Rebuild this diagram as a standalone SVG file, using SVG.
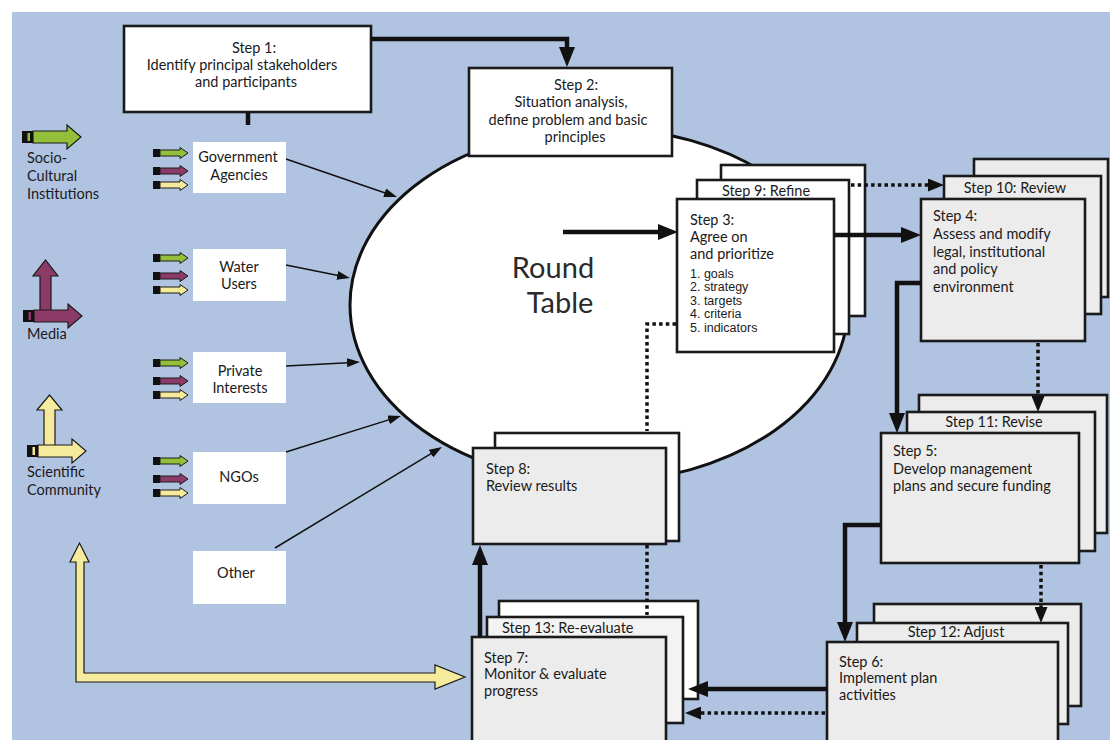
<svg xmlns="http://www.w3.org/2000/svg" xmlns:xlink="http://www.w3.org/1999/xlink" width="1110" height="740" viewBox="0 0 1110 740">
<style>
text{font-family:Lato,"Liberation Sans",sans-serif;font-size:14.5px;fill:#1a1a1a}
.c{text-anchor:middle}
.li{font-family:"Liberation Sans",Arial,sans-serif;font-size:12.5px}
.rt{font-size:29px;fill:#2a2a2a}
.box{stroke:#1a1a1a;stroke-width:2.6}
.w{fill:#ffffff}
.gr{fill:#ececec}
.gl{fill:#f3f3f3}
.sh{fill:#ffffff}
.thick{fill:none;stroke:#111;stroke-width:4.5}
.dot{fill:none;stroke:#111;stroke-width:3.5;stroke-dasharray:3.5 3.2}
.thin{fill:none;stroke:#111;stroke-width:1.5}
.ga{fill:#93bf3b}
.pa{fill:#8c3a67}
.ya{fill:#f6eb9d}
.ao{stroke:#1a1a1a;stroke-width:1.2}
</style>
<defs>
<marker id="ah" markerUnits="userSpaceOnUse" viewBox="0 0 20 16" markerWidth="20" markerHeight="16" refX="10" refY="8" orient="auto"><path d="M0,0 L20,8 L0,16 Z" fill="#111"/></marker>
<marker id="ahd" markerUnits="userSpaceOnUse" viewBox="0 0 16 13" markerWidth="16" markerHeight="13" refX="8" refY="6.5" orient="auto"><path d="M0,0 L16,6.5 L0,13 Z" fill="#111"/></marker>
<marker id="aht" markerUnits="userSpaceOnUse" viewBox="0 0 13 9" markerWidth="13" markerHeight="9" refX="6" refY="4.5" orient="auto"><path d="M0,0 L13,4.5 L0,9 Z" fill="#111"/></marker>
<path id="sab" d="M7,-3 H27 V-5.5 L35,0 L27,5.5 V3 H7 Z" stroke="#1a1a1a" stroke-width="1"/>
<g id="tri">
<rect x="0" y="-4" width="7" height="8" fill="#111"/><use xlink:href="#sab" href="#sab" class="ga"/>
<rect x="0" y="14" width="7" height="8" fill="#111"/><use xlink:href="#sab" href="#sab" class="pa" y="18"/>
<rect x="0" y="28" width="7" height="8" fill="#111"/><use xlink:href="#sab" href="#sab" class="ya" y="32"/>
</g>
<path id="big" d="M11,-6 H45 V-12 L59,0 L45,12 V6 H11 Z" stroke="#1a1a1a" stroke-width="1.2"/>
</defs>

<rect x="12" y="12" width="1098" height="728" fill="#b0c4e2"/>

<!-- Legend -->
<g id="legend-socio">
<use xlink:href="#big" href="#big" class="ga" x="22" y="137"/>
<rect x="22" y="131" width="11" height="12" fill="#111"/>
<rect x="27.5" y="133" width="2.5" height="8" fill="#93bf3b"/>
<text x="27" y="163">Socio-</text>
<text x="27" y="181">Cultural</text>
<text x="27" y="199">Institutions</text>
</g>
<g id="legend-media">
<path d="M40,312 V276 H33 L45.5,260 L58,276 H51 V312" class="pa ao"/>
<use xlink:href="#big" href="#big" class="pa" x="23" y="316"/>
<rect x="23" y="310" width="11" height="12" fill="#111"/>
<rect x="28.5" y="312" width="2.5" height="8" fill="#8c3a67"/>
<text x="27" y="339">Media</text>
</g>
<g id="legend-science">
<path d="M44,447 V410 H37 L49.5,395 L62,410 H55 V447" class="ya ao"/>
<use xlink:href="#big" href="#big" class="ya" x="27" y="451"/>
<rect x="27" y="445" width="11" height="12" fill="#111"/>
<rect x="32.5" y="447" width="2.5" height="8" fill="#f6eb9d"/>
<text x="27" y="477">Scientific</text>
<text x="27" y="495">Community</text>
</g>
<g id="feedback-arrow">
<path d="M76,562 H70 L79.5,543 L89,562 H84 V673 H435 V665 L465,677 L435,689 V682 H76 Z" class="ya ao"/>
</g>

<!-- Round table -->
<g id="round-table">
<ellipse cx="599" cy="305" rx="249" ry="177" fill="#fff" stroke="#111" stroke-width="3"/>
<text class="c rt" x="553" y="278">Round</text>
<text class="c rt" x="560" y="313">Table</text>
</g>

<!-- Stakeholders -->
<g id="government">
<use xlink:href="#tri" href="#tri" x="153" y="153"/>
<rect class="sh" x="193" y="142" width="93" height="51"/>
<text class="c" x="238" y="162">Government</text>
<text class="c" x="239" y="180">Agencies</text>
</g>
<g id="water-users">
<use xlink:href="#tri" href="#tri" x="153" y="258"/>
<rect class="sh" x="193" y="249" width="93" height="52"/>
<text class="c" x="239" y="272">Water</text>
<text class="c" x="239" y="289">Users</text>
</g>
<g id="private-interests">
<use xlink:href="#tri" href="#tri" x="153" y="363"/>
<rect class="sh" x="193" y="352" width="93" height="51"/>
<text class="c" x="240" y="376">Private</text>
<text class="c" x="240" y="393">Interests</text>
</g>
<g id="ngos">
<use xlink:href="#tri" href="#tri" x="153" y="461"/>
<rect class="sh" x="193" y="452" width="93" height="52"/>
<text class="c" x="239" y="482">NGOs</text>
</g>
<g id="other">
<rect class="sh" x="193" y="551" width="93" height="53"/>
<text class="c" x="236" y="578">Other</text>
</g>

<!-- Steps -->
<g id="step1">
<rect class="box w" x="124" y="26" width="247" height="86" stroke-width="3"/>
<text class="c" x="254" y="53">Step 1:</text>
<text class="c" x="242" y="70">Identify principal stakeholders</text>
<text class="c" x="246" y="87">and participants</text>
</g>
<g id="step2">
<rect class="box w" x="469" y="68" width="203" height="88"/>
<text class="c" x="576" y="90">Step 2:</text>
<text class="c" x="571" y="107">Situation analysis,</text>
<text class="c" x="568" y="125">define problem and basic</text>
<text class="c" x="575" y="142">principles</text>
</g>
<g id="step3">
<rect class="box w" x="721" y="165" width="144" height="151"/>
<rect class="box w" x="697" y="180" width="152" height="154"/>
<text class="c" x="766" y="196">Step 9: Refine</text>
<rect class="box w" x="677" y="199" width="157" height="153"/>
<text x="690" y="225">Step 3:</text>
<text x="690" y="242">Agree on</text>
<text x="690" y="259">and prioritize</text>
<text class="li" x="690" y="278">1. goals</text>
<text class="li" x="690" y="291">2. strategy</text>
<text class="li" x="690" y="304.5">3. targets</text>
<text class="li" x="690" y="318">4. criteria</text>
<text class="li" x="690" y="331.5">5. indicators</text>
</g>
<g id="step4">
<rect class="box gr" x="974" y="159" width="134" height="138"/>
<rect class="box gr" x="944" y="176" width="157" height="138"/>
<text class="c" x="1015" y="193">Step 10: Review</text>
<rect class="box gr" x="921" y="199" width="164" height="142"/>
<text x="933" y="221">Step 4:</text>
<text x="933" y="239">Assess and modify</text>
<text x="933" y="257">legal, institutional</text>
<text x="933" y="274">and policy</text>
<text x="933" y="292">environment</text>
</g>
<g id="step5">
<rect class="box gr" x="919" y="395" width="188" height="138"/>
<rect class="box gr" x="907" y="412" width="188" height="139"/>
<text class="c" x="994" y="427">Step 11: Revise</text>
<rect class="box gr" x="881" y="433" width="198" height="130"/>
<text x="893" y="456">Step 5:</text>
<text x="893" y="474">Develop management</text>
<text x="893" y="491">plans and secure funding</text>
</g>
<g id="step6">
<rect class="box gr" x="874" y="604" width="207" height="102"/>
<rect class="box gr" x="857" y="623" width="211" height="101"/>
<text class="c" x="956" y="637">Step 12: Adjust</text>
<rect class="box gr" x="827" y="642" width="231" height="100"/>
<text x="839" y="667">Step 6:</text>
<text x="839" y="683">Implement plan</text>
<text x="839" y="700">activities</text>
</g>
<g id="step7">
<rect class="box w" x="499" y="601" width="199" height="98"/>
<rect class="box gl" x="487" y="617" width="196" height="106"/>
<text x="502" y="633">Step 13: Re-evaluate</text>
<rect class="box gr" x="472" y="637" width="194" height="105"/>
<text x="484" y="663">Step 7:</text>
<text x="484" y="679">Monitor &amp; evaluate</text>
<text x="484" y="696">progress</text>
</g>
<g id="step8">
<rect class="box w" x="495" y="433" width="184" height="108"/>
<rect class="box gr" x="473" y="448" width="193" height="96"/>
<text x="486" y="474">Step 8:</text>
<text x="486" y="491">Review results</text>
</g>

<!-- Connectors -->
<g id="connectors">
<path class="thick" d="M248,112 V125"/>
<path class="thick" d="M371,39 H567 V57" marker-end="url(#ah)"/>
<path class="thick" d="M563,232 H668" marker-end="url(#ah)"/>
<path class="thick" d="M834,235 H911" marker-end="url(#ah)"/>
<path class="thick" d="M921,283 H897 V423" marker-end="url(#ah)"/>
<path class="thick" d="M881,525 H845 V632" marker-end="url(#ah)"/>
<path class="thick" d="M827,689 H698" marker-end="url(#ah)"/>
<path class="thick" d="M480,637 V555" marker-end="url(#ah)"/>
<path class="dot" d="M851,185 H936" marker-end="url(#ahd)"/>
<path class="dot" d="M1038,343 V404" marker-end="url(#ahd)"/>
<path class="dot" d="M1041,565 V615" marker-end="url(#ahd)"/>
<path class="dot" d="M825,713 H693" marker-end="url(#ahd)"/>
<path class="dot" d="M676,324 H647 V431"/>
<path class="dot" d="M647,545 V615"/>
<path class="thin" d="M286,159 L390.4,194.7" marker-end="url(#aht)"/>
<path class="thin" d="M286,265 L343.1,276.6" marker-end="url(#aht)"/>
<path class="thin" d="M286,366 L353,362.4" marker-end="url(#aht)"/>
<path class="thin" d="M286,452 L394.3,418.1" marker-end="url(#aht)"/>
<path class="thin" d="M275,548 L436,450.6" marker-end="url(#aht)"/>
</g>
</svg>
